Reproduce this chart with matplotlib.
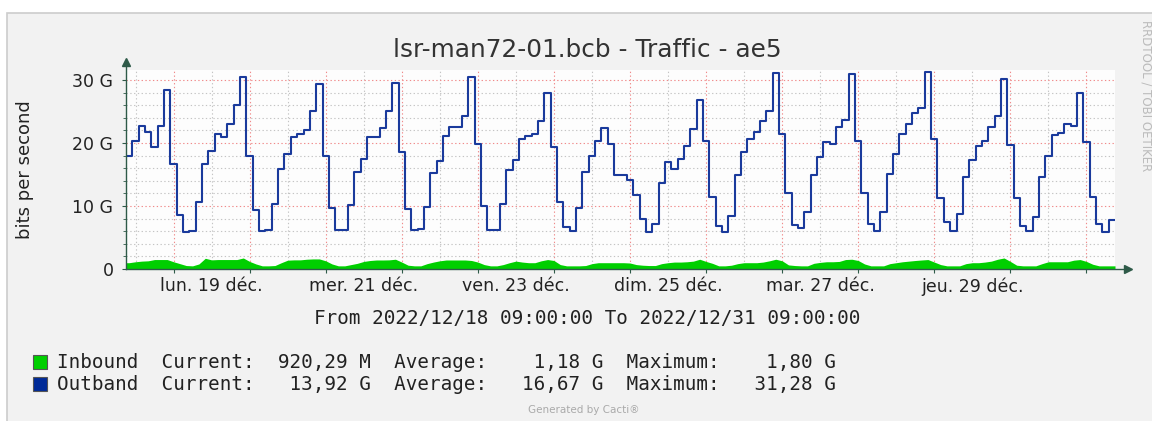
import matplotlib
matplotlib.use("Agg")
import matplotlib.pyplot as plt
import matplotlib.dates as mdates
import matplotlib.ticker as mticker
from matplotlib.patches import Rectangle
import pandas as pd
import numpy as np

# 2-hour samples, 2022/12/18 09:00 -> 2022/12/31 09:00 (values in Gbit/s)
START = "2022-12-18 09:00"
END = "2022-12-31 09:00"

OUTBOUND = [
    18.0, 20.4, 22.7, 21.8, 19.4, 22.7, 28.5, 16.7, 8.6, 5.8, 6.0, 10.7,
    16.7, 18.8, 21.4, 21.0, 23.0, 26.1, 30.5, 18.0, 9.4, 6.0, 6.2, 10.3,
    15.9, 18.3, 20.9, 21.4, 22.0, 25.1, 29.3, 18.0, 9.7, 6.2, 6.2, 10.1,
    15.4, 17.4, 20.9, 21.0, 22.4, 25.1, 29.6, 18.6, 9.6, 6.2, 6.4, 9.9,
    15.2, 17.1, 21.1, 22.5, 22.5, 24.3, 30.5, 19.9, 10.0, 6.2, 6.2, 10.3,
    15.7, 17.3, 20.7, 21.1, 21.5, 23.5, 28.0, 19.4, 10.7, 6.7, 6.0, 9.7,
    15.4, 18.0, 20.3, 22.4, 19.8, 15.0, 15.0, 14.2, 11.7, 8.0, 5.8, 7.1,
    13.7, 17.0, 15.9, 17.4, 19.5, 22.3, 26.9, 20.3, 11.4, 6.8, 5.9, 8.4,
    14.9, 18.6, 20.7, 21.8, 23.5, 25.1, 31.2, 21.4, 12.1, 7.0, 6.5, 9.1,
    14.9, 17.8, 20.1, 19.9, 22.5, 23.6, 30.9, 20.3, 12.0, 7.1, 6.0, 9.1,
    15.1, 18.3, 21.4, 23.0, 24.7, 25.5, 31.3, 20.7, 11.2, 7.4, 6.0, 8.7,
    14.6, 17.3, 19.6, 20.4, 22.5, 24.3, 30.1, 19.7, 11.2, 6.8, 6.0, 8.2,
    14.6, 18.0, 21.2, 21.6, 23.0, 22.7, 28.0, 20.2, 11.4, 7.1, 5.8, 7.8,
]

INBOUND = [
    1.0, 1.15, 1.25, 1.3, 1.5, 1.5, 1.5, 1.15, 0.85, 0.55, 0.5, 0.8,
    1.7, 1.45, 1.5, 1.5, 1.5, 1.5, 1.75, 1.2, 0.8, 0.5, 0.5, 0.55,
    1.0, 1.4, 1.45, 1.45, 1.55, 1.6, 1.6, 1.3, 0.8, 0.5, 0.5, 0.7,
    0.9, 1.2, 1.35, 1.43, 1.43, 1.45, 1.55, 1.1, 0.6, 0.5, 0.5, 0.85,
    1.1, 1.3, 1.43, 1.43, 1.43, 1.43, 1.35, 1.1, 0.7, 0.5, 0.5, 0.7,
    1.0, 1.25, 1.1, 1.0, 1.0, 1.3, 1.5, 1.35, 0.7, 0.5, 0.5, 0.5,
    0.55, 0.85, 1.0, 1.0, 1.0, 1.0, 1.0, 0.95, 0.7, 0.6, 0.55, 0.55,
    0.85, 1.0, 1.1, 1.1, 1.15, 1.25, 1.55, 1.2, 0.9, 0.5, 0.5, 0.6,
    0.85, 1.0, 1.0, 1.0, 1.1, 1.3, 1.55, 1.3, 0.65, 0.55, 0.5, 0.5,
    0.9, 1.05, 1.15, 1.15, 1.2, 1.5, 1.55, 1.35, 0.8, 0.5, 0.5, 0.5,
    0.85, 1.0, 1.15, 1.25, 1.35, 1.43, 1.5, 1.1, 0.7, 0.5, 0.5, 0.5,
    0.85, 1.0, 1.0, 1.1, 1.25, 1.55, 1.75, 1.2, 0.6, 0.5, 0.5, 0.5,
    0.85, 1.15, 1.15, 1.15, 1.15, 1.4, 1.5, 1.2, 0.75, 0.5, 0.5, 0.5,
]

DAY_LABELS = ["", "lun. 19 déc.", "", "mer. 21 déc.", "", "ven. 23 déc.", "",
              "dim. 25 déc.", "", "mar. 27 déc.", "", "jeu. 29 déc.", ""]
Y_TICKS = [0, 10, 20, 30]
Y_LABELS = ["0", "10 G", "20 G", "30 G"]

TITLE = "lsr-man72-01.bcb - Traffic - ae5"
PERIOD = "From 2022/12/18 09:00:00 To 2022/12/31 09:00:00"
LEGEND_ROWS = [
    ("Inbound  Current:  920,29 M  Average:    1,18 G  Maximum:    1,80 G", "#00CF00"),
    ("Outband  Current:   13,92 G  Average:   16,67 G  Maximum:   31,28 G", "#002A97"),
]

GREEN = "#00CF00"
BLUE = "#1a3a9c"
AXIS_C = "#2e5a48"
TXT = "#222222"

W, H = 1152, 421

times = pd.date_range(START, periods=len(OUTBOUND), freq="2h")
t = list(times) + [pd.Timestamp(END)]
out = OUTBOUND + [OUTBOUND[-1]]
# inbound area drawn smooth, through the middle of each 2 h sample
t_in = [pd.Timestamp(START)] + list(times + pd.Timedelta(hours=1)) + [pd.Timestamp(END)]
inb = [INBOUND[0]] + INBOUND + [INBOUND[-1]]

fig = plt.figure(figsize=(W / 100, H / 100), dpi=100)
fig.patch.set_facecolor("white")
fig.add_artist(Rectangle((7 / W, -0.01), 1.0, (H - 13) / H + 0.01, transform=fig.transFigure,
                         facecolor="#f2f2f2", edgecolor="#cccccc", lw=1.2, zorder=-10))

ax = fig.add_axes([126 / W, (H - 269) / H, 989 / W, 199 / H])
ax.set_facecolor("#fdfdfd")
for s in ax.spines.values():
    s.set_visible(False)

ax.fill_between(t_in, 0, inb, color=GREEN, lw=0, zorder=3)
ax.plot(t, out, drawstyle="steps-post", color=BLUE, lw=1.5, zorder=4)

ax.set_xlim(pd.Timestamp(START), pd.Timestamp(END))
ax.set_ylim(0, 31.6)

# grid: red dotted at midnight / every 10 G, grey dotted at noon / every 2 G
ax.xaxis.set_major_locator(mdates.DayLocator())
ax.xaxis.set_major_formatter(mticker.NullFormatter())
ax.xaxis.set_minor_locator(mdates.HourLocator(byhour=[12]))
ax.xaxis.set_minor_formatter(mticker.FixedFormatter(DAY_LABELS))
ax.set_yticks(Y_TICKS, Y_LABELS)
ax.yaxis.set_minor_locator(mticker.MultipleLocator(2))

ax.grid(which="major", color="#f08a8a", ls=(0, (1.2, 2.2)), lw=0.8, zorder=1)
ax.grid(which="minor", color="#c4c4c4", ls=(0, (1.2, 2.2)), lw=0.8, zorder=0)

ax.tick_params(axis="y", which="major", length=3, color=AXIS_C, pad=6,
               labelsize=12.5, labelcolor=TXT)
ax.tick_params(axis="y", which="minor", length=2, color=AXIS_C)
ax.tick_params(axis="x", which="major", length=3, color=AXIS_C)
ax.tick_params(axis="x", which="minor", length=0, pad=6, labelsize=12.5, labelcolor=TXT)

# axes with arrows
ax.plot([0, 0], [0, 1.03], transform=ax.transAxes, color=AXIS_C, lw=1, clip_on=False, zorder=5)
ax.plot([0, 1.013], [0, 0], transform=ax.transAxes, color=AXIS_C, lw=1, clip_on=False, zorder=5)
ax.plot([0], [1.04], marker="^", ms=6, color=AXIS_C, transform=ax.transAxes, clip_on=False)
ax.plot([1.013], [0], marker=">", ms=6, color=AXIS_C, transform=ax.transAxes, clip_on=False)

ax.set_ylabel("bits per second", fontsize=13, color=TXT)
ax.yaxis.set_label_coords((34 - 126) / 989, 0.5)

fig.text(587 / W, 1 - 50 / H, TITLE, ha="center", va="center", fontsize=17.8, color="#333333")
fig.text(587 / W, 1 - 318 / H, PERIOD, ha="center", va="center",
         family="DejaVu Sans Mono", fontsize=13.9, color=TXT)

for i, (row, col) in enumerate(LEGEND_ROWS):
    yc = 362 + 22 * i
    fig.add_artist(Rectangle((33 / W, 1 - (yc + 7) / H), 14 / W, 14 / H, transform=fig.transFigure,
                             facecolor=col, edgecolor="#555555", lw=0.8))
    fig.text(57 / W, 1 - yc / H, row, ha="left", va="center",
             family="DejaVu Sans Mono", fontsize=13.9, color=TXT)

fig.text(584 / W, 1 - 410 / H, "Generated by Cacti®", ha="center", va="center",
         fontsize=7.5, color="#aaaaaa")
fig.text(1146 / W, 1 - 20 / H, "RRDTOOL / TOBI OETIKER", ha="center", va="top",
         rotation=270, fontsize=8.5, color="#bbbbbb")

fig.savefig("out.png", dpi=100)
